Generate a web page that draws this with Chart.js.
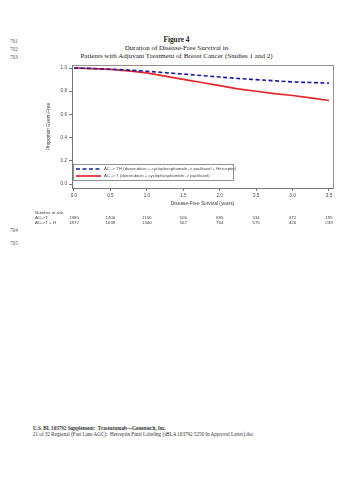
<!DOCTYPE html>
<html>
<head>
<meta charset="utf-8">
<script src="https://cdn.jsdelivr.net/npm/chart.js@4"></script>
<style>
  html, body { margin: 0; padding: 0; background: #fff; }
  body { width: 353px; height: 500px; position: relative; overflow: hidden; font-family: "Liberation Serif", serif; }
  .ln { position: absolute; left: 10px; font-size: 5.2px; color: #555; }
  .ttl { position: absolute; left: 0; width: 353px; text-align: center; color: #222; white-space: nowrap; }
  .foot { position: absolute; left: 33px; font-size: 5.1px; color: #333; white-space: nowrap; }
  #wrap { position: absolute; left: 0; top: 60px; width: 353px; height: 175px; }
</style>
</head>
<body>
<div class="ln" style="top:38px">701</div>
<div class="ln" style="top:46px">702</div>
<div class="ln" style="top:54px">703</div>
<div class="ln" style="top:227px">704</div>
<div class="ln" style="top:240px">705</div>

<div class="ttl" style="top:35px;font-size:7.3px;font-weight:bold">Figure 4</div>
<div class="ttl" style="top:44px;font-size:7px">Duration of Disease-Free Survival in</div>
<div class="ttl" style="top:52px;font-size:7px">Patients with Adjuvant Treatment of Breast Cancer (Studies 1 and 2)</div>

<div id="wrap"><canvas id="kmChart" width="353" height="175"></canvas></div>

<div class="foot" style="top:425px;font-weight:bold">U.S. BL 103792 Supplement:&nbsp; Trastuzumab—Genentech, Inc.</div>
<div class="foot" style="top:431px">21 of 32 Regional (Fast Lane AGC):&nbsp; Herceptin Final Labeling (sBLA 103792 5250 In Approval Letter).doc</div>

<script>
const years = [0, 0.25, 0.5, 0.75, 1.0, 1.25, 1.5, 1.75, 2.0, 2.25, 2.5, 2.75, 3.0, 3.25, 3.5];
const survTH = [1.0, 0.996, 0.99, 0.982, 0.972, 0.96, 0.948, 0.935, 0.922, 0.91, 0.9, 0.89, 0.88, 0.875, 0.87];
const survT = [1.0, 0.995, 0.988, 0.975, 0.958, 0.93, 0.902, 0.875, 0.848, 0.82, 0.8, 0.78, 0.763, 0.743, 0.72];

const xTicks = [0, 0.5, 1.0, 1.5, 2.0, 2.5, 3.0, 3.5];
const yTicks = [0, 0.2, 0.4, 0.6, 0.8, 1.0];
const riskT = [1980, 1400, 1150, 506, 685, 534, 372, 195];
const riskTH = [1872, 1639, 1340, 567, 764, 575, 426, 239];

const labelTH = "AC -> TH (doxorubicin + cyclophosphamide -> paclitaxel + Herceptin)";
const labelT = "AC -> T (doxorubicin + cyclophosphamide -> paclitaxel)";

const axisGrey = "#777";
const textGrey = "#444";

// frame around the plot, legend inside, number at risk below
const extras = {
    id: "extras",
    afterDraw(chart) {
        const ctx = chart.ctx;
        const a = chart.chartArea;
        ctx.save();
        ctx.strokeStyle = axisGrey;
        ctx.lineWidth = 0.8;
        ctx.strokeRect(a.left + 0.5, a.top + 0.5, a.right - a.left, a.bottom - a.top);

        // legend box
        const lx = a.left + 1, ly = a.bottom - 24, lw = 160, lh = 16;
        ctx.strokeRect(lx + 0.5, ly + 0.5, lw, lh);
        ctx.font = "4.3px 'Liberation Sans'";
        ctx.textBaseline = "middle";
        chart.data.datasets.forEach((ds, i) => {
            const y = ly + 5 + i * 7;
            ctx.strokeStyle = ds.borderColor;
            ctx.lineWidth = ds.borderWidth;
            ctx.setLineDash(ds.borderDash || []);
            ctx.beginPath();
            ctx.moveTo(lx + 3, y);
            ctx.lineTo(lx + 28, y);
            ctx.stroke();
            ctx.setLineDash([]);
            ctx.fillStyle = textGrey;
            ctx.fillText(ds.label, lx + 31, y);
        });

        // number at risk
        const xs = chart.scales.x;
        const base = a.bottom + 25;
        ctx.fillStyle = textGrey;
        ctx.font = "4.4px 'Liberation Sans'";
        ctx.textAlign = "left";
        ctx.fillText("Number at risk", 35, base);
        ctx.fillText("AC->T", 35, base + 5);
        ctx.fillText("AC->T + H", 35, base + 10);
        ctx.textAlign = "center";
        xTicks.forEach((t, i) => {
            const px = xs.getPixelForValue(t);
            ctx.fillText(String(riskT[i]), px, base + 5);
            ctx.fillText(String(riskTH[i]), px, base + 10);
        });
        ctx.restore();
    }
};

new Chart(document.getElementById("kmChart"), {
    type: "line",
    data: {
        datasets: [
            {
                label: labelTH,
                data: years.map((t, i) => ({ x: t, y: survTH[i] })),
                borderColor: "#1a1a9c",
                borderWidth: 1.6,
                borderDash: [4, 2.5],
                pointRadius: 0,
                fill: false
            },
            {
                label: labelT,
                data: years.map((t, i) => ({ x: t, y: survT[i] })),
                borderColor: "#e3262b",
                borderWidth: 1.7,
                pointRadius: 0,
                fill: false
            }
        ]
    },
    options: {
        responsive: false,
        animation: false,
        layout: { padding: { left: 44, top: 5, right: 20, bottom: 25 } },
        plugins: {
            legend: { display: false },
            tooltip: { enabled: false }
        },
        scales: {
            x: {
                type: "linear",
                min: -0.027,
                max: 3.555,
                afterBuildTicks: s => { s.ticks = xTicks.map(v => ({ value: v })); },
                afterFit: s => { s.height = 22; },
                ticks: {
                    callback: v => v.toFixed(1),
                    font: { family: "Liberation Sans", size: 4.6 },
                    color: textGrey,
                    padding: 2,
                    maxRotation: 0
                },
                grid: { drawOnChartArea: false, drawTicks: true, tickLength: 3, color: axisGrey },
                border: { display: true, color: axisGrey },
                title: {
                    display: true,
                    text: "Disease-Free Survival (years)",
                    font: { family: "Liberation Sans", size: 4.8 },
                    color: textGrey,
                    padding: { top: 0, bottom: 3 }
                }
            },
            y: {
                min: -0.034,
                max: 1.026,
                afterBuildTicks: s => { s.ticks = yTicks.map(v => ({ value: v })); },
                afterFit: s => { s.width = 28; },
                ticks: {
                    callback: v => v.toFixed(1),
                    font: { family: "Liberation Sans", size: 4.6 },
                    color: textGrey,
                    padding: 2
                },
                grid: { drawOnChartArea: false, drawTicks: true, tickLength: 3, color: axisGrey },
                border: { display: true, color: axisGrey },
                title: {
                    display: true,
                    text: "Proportion Event-Free",
                    font: { family: "Liberation Sans", size: 4.8 },
                    color: textGrey,
                    padding: 2
                }
            }
        }
    },
    plugins: [extras]
});
</script>
</body>
</html>
